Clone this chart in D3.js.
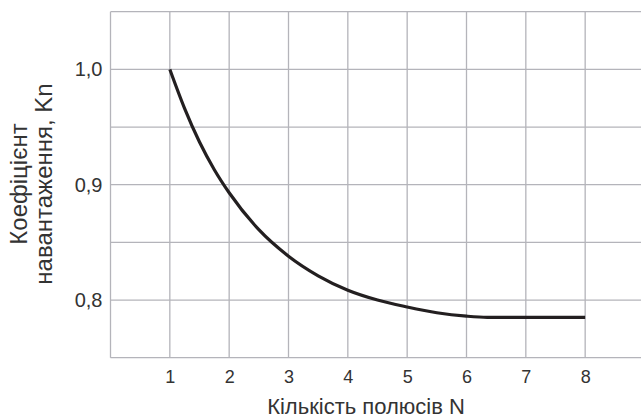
<!DOCTYPE html>
<html>
<head>
<meta charset="utf-8">
<script src="https://cdn.jsdelivr.net/npm/d3@7"></script>
<style>
  body { margin: 0; background: #fff; overflow: hidden; }
  text { font-family: "Liberation Sans", Arial, sans-serif; fill: #333; }
</style>
</head>
<body>
<div id="wrapper"></div>
<script>
// curve
const poles = [1, 1.25, 1.5, 1.75, 2, 2.5, 3, 3.5, 4, 4.5, 5, 5.5, 6, 6.35, 7, 8];
const coef = [1.0, 0.966, 0.937, 0.913, 0.893, 0.861, 0.838, 0.821, 0.8085, 0.800, 0.794, 0.789, 0.786, 0.785, 0.785, 0.785];
const xTicks = [1, 2, 3, 4, 5, 6, 7, 8];
const yTicks = [0.8, 0.9, 1.0];
const yGrid = [0.75, 0.8, 0.85, 0.9, 0.95, 1.0, 1.05];
const xGrid = [0, 1, 2, 3, 4, 5, 6, 7, 8, 9];

const dimensions = {
  width: 641,
  height: 417,
  margins: { top: 11.7, right: -3.5, bottom: 59.3, left: 110.5 }
};
dimensions.boundedWidth = dimensions.width - dimensions.margins.left - dimensions.margins.right;
dimensions.boundedHeight = dimensions.height - dimensions.margins.top - dimensions.margins.bottom;

const wrapper = d3.select("#wrapper")
  .append("svg")
  .attr("width", dimensions.width)
  .attr("height", dimensions.height);

const bounds = wrapper.append("g")
  .attr("transform", `translate(${dimensions.margins.left},${dimensions.margins.top})`);

const xScale = d3.scaleLinear().domain([0, 9]).range([0, dimensions.boundedWidth]);
const yScale = d3.scaleLinear().domain([0.75, 1.05]).range([dimensions.boundedHeight, 0]);

// grid
bounds.selectAll(".vgrid").data(xGrid).enter().append("line")
  .attr("x1", d => xScale(d)).attr("x2", d => xScale(d))
  .attr("y1", 0).attr("y2", dimensions.boundedHeight)
  .attr("stroke", "#b4b4ba").attr("stroke-width", 1.3);
bounds.selectAll(".hgrid").data(yGrid).enter().append("line")
  .attr("y1", d => yScale(d)).attr("y2", d => yScale(d))
  .attr("x1", 0).attr("x2", dimensions.boundedWidth)
  .attr("stroke", "#b4b4ba").attr("stroke-width", 1.3);

// axes (labels only)
const fmt = d => d3.format(".1f")(d).replace(".", ",");
const xAxis = bounds.append("g")
  .attr("transform", `translate(0,${dimensions.boundedHeight})`)
  .call(d3.axisBottom(xScale).tickValues(xTicks).tickSize(0).tickPadding(13));
const yAxis = bounds.append("g")
  .call(d3.axisLeft(yScale).tickValues(yTicks).tickFormat(fmt).tickSize(0).tickPadding(8));
[xAxis, yAxis].forEach(a => {
  a.select(".domain").remove();
  a.selectAll("text").style("font-family", '"Liberation Sans", Arial, sans-serif').attr("fill", "#333");
});
xAxis.selectAll("text").style("font-size", "18px");
yAxis.selectAll("text").style("font-size", "20px");

// curve
const line = d3.line()
  .x((d, i) => xScale(poles[i]))
  .y(d => yScale(d))
  .curve(d3.curveMonotoneX);
bounds.append("path")
  .attr("d", line(coef))
  .attr("fill", "none")
  .attr("stroke", "#231f20")
  .attr("stroke-width", 3.2);

// titles
wrapper.append("text")
  .attr("x", 366).attr("y", 413.5)
  .attr("text-anchor", "middle")
  .style("font-size", "22px")
  .text("Кількість полюсів N");

const yTitle = wrapper.append("text")
  .attr("transform", "translate(0,184) rotate(-90)")
  .attr("text-anchor", "middle")
  .style("font-size", "24px");
yTitle.append("tspan").attr("x", 0).attr("y", 27).text("Коефіцієнт");
yTitle.append("tspan").attr("x", 0).attr("y", 52).text("навантаження, Kn");
</script>
</body>
</html>
